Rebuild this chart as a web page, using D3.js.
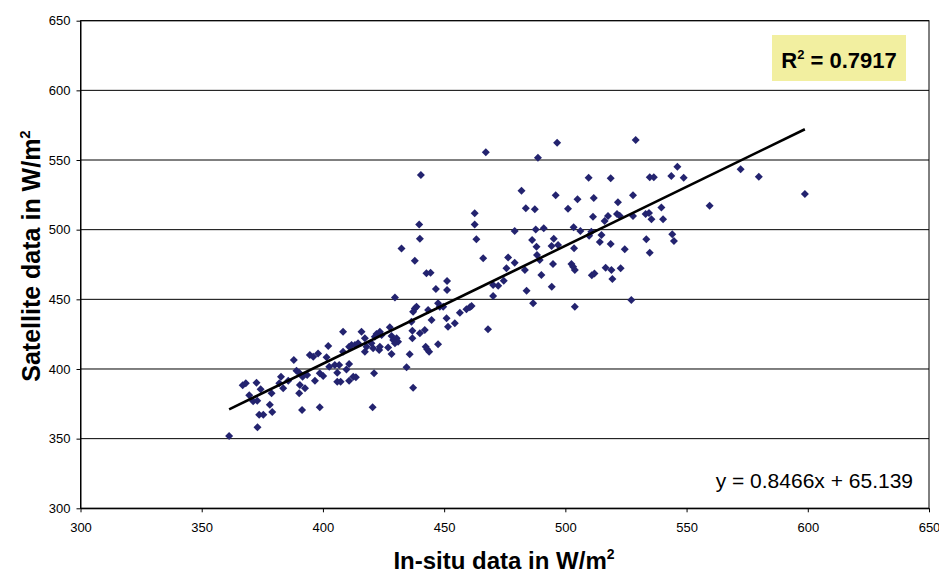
<!DOCTYPE html>
<html><head><meta charset="utf-8">
<script src="https://cdn.jsdelivr.net/npm/d3@7"></script>
<style>body{margin:0;background:#fff}</style>
</head><body>
<svg id="c" width="939" height="574"></svg>
<script>
// In-situ (x) and satellite (y) values, W/m²
const insitu = [
361.3,373.0,373.7,375.4,379.1,378.1,371.2,372.9,369.6,366.9,368.2,372.6,374.3,378.8,382.7,382.0,383.6,385.7,388.0,389.1,
390.2,391.6,390.5,392.6,390.2,391.4,398.7,394.6,396.0,398.0,393.5,396.7,398.7,400.1,401.5,402.2,402.6,404.9,406.7,405.9,
405.9,407.3,408.3,410.8,411.8,408.3,410.8,409.7,410.8,413.6,413.2,415.9,414.5,417.3,418.0,420.0,420.7,421.4,421.1,420.5,
422.1,412.5,
432.4,437.9,442.7,444.4,451.2,446.6,451.2,466.1,429.7,437.9,437.2,443.4,447.5,448.2,449.6,444.8,451.0,451.6,454.4,456.5,
459.2,460.6,461.3,468.1,436.5,436.9,436.9,442.0,440.0,442.4,443.0,443.8,447.5,435.8,434.5,437.2,427.6,428.3,429.0,430.4,
431.0,429.7,426.9,428.3,423.5,424.2,423.5,423.2,417.3,
467.2,488.7,440.4,481.9,483.7,487.4,462.6,462.6,439.7,440.0,463.3,479.1,487.8,491.1,476.4,479.1,475.7,483.3,486.3,488.1,
488.3,489.4,490.1,484.0,470.2,472.3,474.6,470.2,486.7,438.6,
494.4,503.9,503.9,510.9,512.0,
496.6,529.0,509.6,518.7,534.8,536.5,543.7,546.2,548.8,496.0,505.0,511.7,521.7,527.9,501.1,511.4,517.6,516.2,521.3,522.4,
527.9,533.1,534.5,535.5,539.6,540.3,503.4,506.2,510.7,509.8,514.9,514.2,495.2,494.3,497.0,503.6,518.7,524.5,533.4,534.8,
544.1,544.8,494.9,502.5,503.2,516.6,519.0,519.4,522.8,527.2,
559.5,572.3,579.8,598.8
];
const satellite = [
351.9,358.1,367.2,367.2,369.1,374.3,376.8,377.2,381.1,388.3,389.7,390.1,385.4,382.5,394.4,389.7,386.1,391.6,406.4,398.7,
397.3,394.4,388.5,386.1,382.5,370.5,372.5,410.0,408.8,411.2,395.7,391.6,396.9,394.9,408.4,416.5,401.6,402.8,402.8,397.3,
390.8,390.8,412.4,416.0,417.2,426.7,403.6,399.7,391.6,394.0,417.2,426.7,418.4,412.4,416.0,418.4,414.8,423.2,396.9,372.5,
425.1,394.4,
486.5,477.7,468.7,469.1,463.1,457.4,456.7,479.4,451.4,443.5,441.1,442.3,447.1,444.7,444.7,435.1,436.4,430.3,432.8,440.4,
442.8,444.3,445.2,428.5,433.9,427.5,422.0,428.0,425.6,416.0,414.1,412.4,417.7,410.5,401.2,386.5,429.9,423.7,420.8,422.0,
419.6,418.4,415.5,410.7,426.7,424.4,416.0,413.6,422.0,
555.5,551.7,539.2,528.0,515.3,514.6,511.7,503.8,503.8,493.5,493.1,499.0,500.2,501.0,480.1,476.3,472.3,471.0,492.6,487.8,
481.8,478.2,467.4,456.2,460.3,459.8,463.4,452.4,447.1,444.7,
459.0,471.0,444.7,467.2,468.6,
562.4,564.4,537.3,536.9,537.6,537.6,538.5,545.2,537.3,524.7,521.8,522.7,519.6,524.7,515.0,509.3,509.8,506.2,511.2,510.0,
509.8,511.2,512.0,507.4,516.0,507.4,501.7,499.0,498.5,495.7,496.2,491.1,493.5,488.3,489.0,486.6,489.7,485.9,493.1,483.5,
496.7,491.9,475.3,475.3,473.4,472.7,471.0,464.6,472.3,449.5,
517.2,543.3,537.9,525.6
];
const xTicks = [300,350,400,450,500,550,600,650];
const yTicks = [300,350,400,450,500,550,600,650];
const slope = 0.8466, intercept = 65.139;
const r2Text = "0.7917";
const xTitle = "In-situ data in W/m";
const yTitle = "Satellite data in W/m";

const font = "'Liberation Sans', Arial, Helvetica, sans-serif";
const svg = d3.select("#c");
const x = d3.scaleLinear().domain([300,650]).range([80.5,929]);
const y = d3.scaleLinear().domain([300,650]).range([508.3,20.7]);

// gridlines
svg.append("g").selectAll("line").data(yTicks).join("line")
  .attr("x1",x(300)).attr("x2",x(650))
  .attr("y1",d=>y(d)).attr("y2",d=>y(d))
  .attr("stroke","#000").attr("stroke-width",1);

// plot border
svg.append("rect").attr("x",x(300)).attr("y",y(650))
  .attr("width",x(650)-x(300)).attr("height",y(300)-y(650))
  .attr("fill","none").attr("stroke","#000").attr("stroke-width",1);

// axes
const gx = svg.append("g").attr("transform",`translate(0,${y(300)})`)
  .call(d3.axisBottom(x).tickValues(xTicks).tickSize(4).tickSizeOuter(0).tickPadding(10).tickFormat(d3.format("d")));
const gy = svg.append("g").attr("transform",`translate(${x(300)},0)`)
  .call(d3.axisLeft(y).tickValues(yTicks).tickSize(4).tickSizeOuter(0).tickPadding(6).tickFormat(d3.format("d")));
[gx,gy].forEach(g=>{
  g.selectAll("text").attr("font-family",font).attr("font-size",13).attr("fill","#000");
  g.selectAll("line").attr("stroke","#000");
  g.select(".domain").attr("stroke","#000");
});

// points
const pts = insitu.map((v,i)=>[v,satellite[i]]);
svg.append("g").selectAll("path").data(pts).join("path")
  .attr("transform",d=>`translate(${x(d[0])},${y(d[1])})`)
  .attr("d","M0,-4L4,0L0,4L-4,0Z")
  .attr("fill","#23236f");

// trend line
const xmin = d3.min(insitu), xmax = d3.max(insitu);
svg.append("line")
  .attr("x1",x(xmin)).attr("y1",y(slope*xmin+intercept))
  .attr("x2",x(xmax)).attr("y2",y(slope*xmax+intercept))
  .attr("stroke","#000").attr("stroke-width",2.6);

// equation
svg.append("text").attr("x",913).attr("y",488).attr("text-anchor","end")
  .attr("font-family",font).attr("font-size",21).attr("fill","#000")
  .text(`y = ${slope}x + ${intercept}`);

// R² box
svg.append("rect").attr("x",772).attr("y",35).attr("width",134).attr("height",46).attr("fill","#f2efa0");
const r2 = svg.append("text").attr("x",839).attr("y",68).attr("text-anchor","middle")
  .attr("font-family",font).attr("font-size",22).attr("font-weight","bold").attr("fill","#000");
r2.append("tspan").text("R");
r2.append("tspan").attr("font-size",13).attr("dy",-9).text("2");
r2.append("tspan").attr("dy",9).text(` = ${r2Text}`);

// axis titles
const xt = svg.append("text").attr("x",504).attr("y",569).attr("text-anchor","middle")
  .attr("font-family",font).attr("font-size",24).attr("font-weight","bold").attr("fill","#000");
xt.append("tspan").text(xTitle);
xt.append("tspan").attr("font-size",14).attr("dy",-10).text("2");

const yt = svg.append("text").attr("transform","translate(40,256) rotate(-90)").attr("text-anchor","middle")
  .attr("font-family",font).attr("font-size",25).attr("font-weight","bold").attr("fill","#000");
yt.append("tspan").text(yTitle);
yt.append("tspan").attr("font-size",15).attr("dy",-10).text("2");
</script>
</body></html>
